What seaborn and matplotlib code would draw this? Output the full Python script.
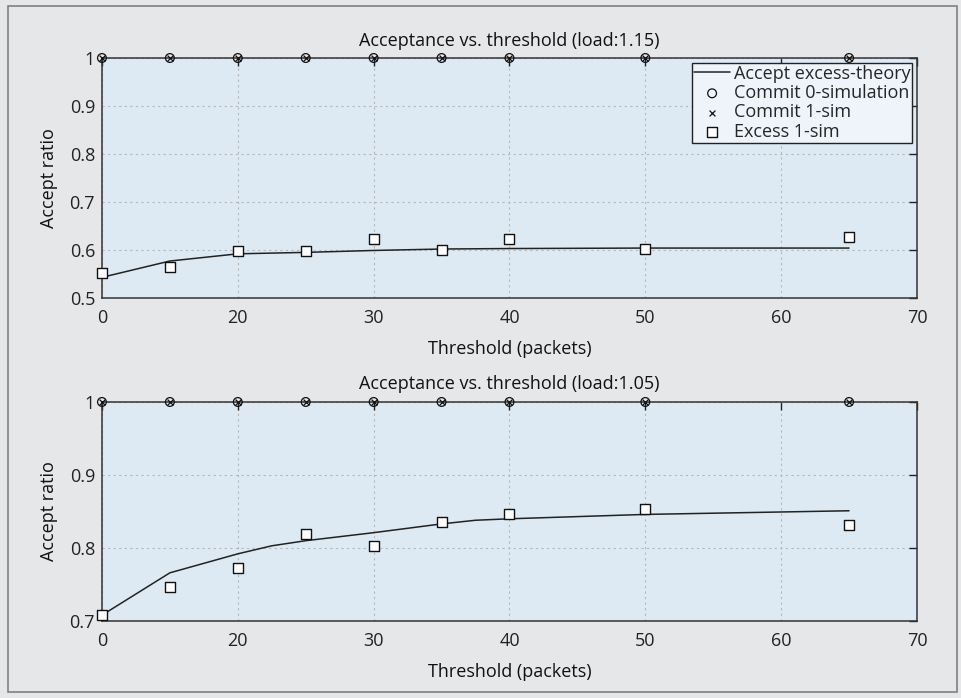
import matplotlib
matplotlib.use("Agg")
import matplotlib.pyplot as plt
import seaborn as sns
import pandas as pd
from matplotlib.patches import Rectangle

# ---- data ----
thresholds = [10, 15, 20, 25, 30, 35, 40, 50, 65]
xtick_pos = [10, 20, 30, 40, 50, 60, 70]
xtick_labels = ["0", "20", "30", "40", "50", "60", "70"]

# load 1.15
theory_x_115 = [10, 15, 20, 25, 30, 35, 40, 50, 65]
theory_y_115 = [0.543, 0.577, 0.592, 0.595, 0.599, 0.602, 0.603, 0.604, 0.604]
commit0_115 = [1, 1, 1, 1, 1, 1, 1, 1, 1]
commit1_115 = [1, 1, 1, 1, 1, 1, 1, 1, 1]
excess_115 = [0.553, 0.565, 0.597, 0.598, 0.623, 0.599, 0.623, 0.603, 0.627]

# load 1.05
theory_x_105 = [10, 15, 20, 22.5, 25, 30, 35, 37.5, 40, 50, 65]
theory_y_105 = [0.708, 0.766, 0.792, 0.803, 0.810, 0.821, 0.833, 0.838, 0.840, 0.846, 0.851]
commit0_105 = [1, 1, 1, 1, 1, 1, 1, 1, 1]
commit1_105 = [1, 1, 1, 1, 1, 1, 1, 1, 1]
excess_105 = [0.708, 0.746, 0.773, 0.819, 0.803, 0.836, 0.847, 0.854, 0.832]

titles = ["Acceptance vs. threshold (load:1.15)", "Acceptance vs. threshold (load:1.05)"]
ylims = [(0.5, 1.0), (0.7, 1.0)]
yticks = [[0.5, 0.6, 0.7, 0.8, 0.9, 1.0], [0.7, 0.8, 0.9, 1.0]]
yticklabels = [["0.5", "0.6", "0.7", "0.8", "0.9", "1"], ["0.7", "0.8", "0.9", "1"]]

sns.set_theme(style="white")
plt.rcParams["font.family"] = ["Open Sans", "DejaVu Sans"]
plt.rcParams["font.size"] = 13

FS = 13
fig_bg = "#e6e7e8"
ax_bg = "#ddeaf3"

fig = plt.figure(figsize=(9.61, 6.98), dpi=100, facecolor=fig_bg)
fig.patches.append(Rectangle((0.008, 0.008), 0.988, 0.984, transform=fig.transFigure,
                             fill=False, edgecolor="#808080", linewidth=1.2))

axes = [fig.add_axes([0.1061, 0.5731, 0.8481, 0.3438]),
        fig.add_axes([0.1061, 0.1103, 0.8481, 0.3138])]

sets = [(theory_x_115, theory_y_115, commit0_115, commit1_115, excess_115),
        (theory_x_105, theory_y_105, commit0_105, commit1_105, excess_105)]

for i, ax in enumerate(axes):
    tx, ty, c0, c1, ex = sets[i]
    ax.set_facecolor(ax_bg)
    dft = pd.DataFrame({"x": tx, "y": ty})
    dfp = pd.DataFrame({"x": thresholds, "c0": c0, "c1": c1, "ex": ex})
    sns.lineplot(data=dft, x="x", y="y", ax=ax, color="#222222", linewidth=1.1,
                 label="Accept excess-theory", zorder=3)
    sns.scatterplot(data=dfp, x="x", y="c0", ax=ax, marker="o", s=40,
                    facecolor="none", edgecolor="#111111", linewidth=0.9,
                    label="Commit 0-simulation", zorder=5, clip_on=False)
    sns.scatterplot(data=dfp, x="x", y="c1", ax=ax, marker="x", s=18,
                    color="#111111", linewidth=0.9,
                    label="Commit 1-sim", zorder=5, clip_on=False)
    sns.scatterplot(data=dfp, x="x", y="ex", ax=ax, marker="s", s=62,
                    facecolor="white", edgecolor="#111111", linewidth=1.0,
                    label="Excess 1-sim", zorder=5, clip_on=False)

    ax.set_xlim(10, 70)
    ax.set_ylim(*ylims[i])
    ax.set_xticks(xtick_pos)
    ax.set_xticklabels(xtick_labels)
    ax.set_yticks(yticks[i])
    ax.set_yticklabels(yticklabels[i])
    ax.tick_params(direction="in", length=6, width=1, top=True, right=True,
                   labelsize=FS, colors="#222222")
    ax.tick_params(axis="x", pad=8)
    ax.tick_params(axis="y", pad=5)
    ax.grid(True, linestyle=(0, (2, 3)), color="#b5b8bb", linewidth=0.8)
    for s in ax.spines.values():
        s.set_color("#333333")
        s.set_linewidth(1.1)
    ax.set_title(titles[i], fontsize=FS, color="#111111", pad=9)
    ax.set_xlabel("Threshold (packets)", fontsize=FS, color="#111111", labelpad=9)
    ax.set_ylabel("Accept ratio", fontsize=FS, color="#111111", labelpad=8)

    if i == 0:
        leg = ax.legend(loc="upper right", bbox_to_anchor=(0.9941, 0.98), frameon=True,
                        fontsize=FS, handlelength=2.0, handletextpad=0.2,
                        borderpad=0.1, labelspacing=0.08, borderaxespad=0.0,
                        fancybox=False, markerscale=1.0)
        leg.get_frame().set_edgecolor("#222222")
        leg.get_frame().set_facecolor("#eef4f9")
        leg.get_frame().set_alpha(1)
        leg.get_frame().set_linewidth(1.0)
    else:
        ax.get_legend().remove()

fig.savefig("out.png", dpi=100, facecolor=fig_bg)
